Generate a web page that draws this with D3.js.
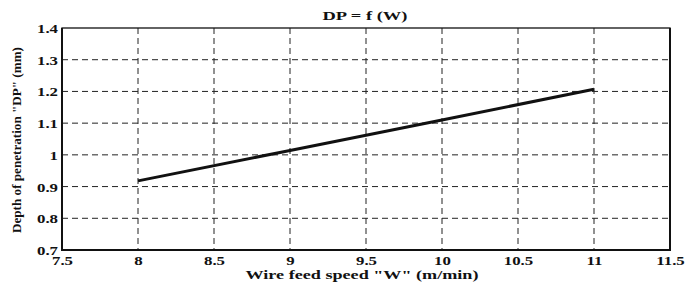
<!DOCTYPE html>
<html><head><meta charset="utf-8">
<script src="https://cdn.jsdelivr.net/npm/d3@7"></script>
<style>body{margin:0;background:#fff;} text{font-family:"Times New Roman","Liberation Serif",Times,serif;font-weight:bold;}</style>
</head><body>
<svg id="c" width="687" height="285"></svg>
<script>
const wData = [8, 9, 10, 11];
const dpData = [0.918, 1.014, 1.11, 1.207];
const xTicks = [7.5, 8, 8.5, 9, 9.5, 10, 10.5, 11, 11.5];
const yTicks = [0.7, 0.8, 0.9, 1, 1.1, 1.2, 1.3, 1.4];

const svg = d3.select("#c");
const m = {l:62, r:670, t:28, b:250};
const x = d3.scaleLinear().domain([7.5, 11.5]).range([m.l, m.r]);
const y = d3.scaleLinear().domain([0.7, 1.4]).range([m.b, m.t]);
const FONT = '"Times New Roman","Liberation Serif",Times,serif';

// grid
svg.append("g").selectAll("line").data(xTicks.slice(1, -1)).enter().append("line")
  .attr("x1", d => x(d)).attr("x2", d => x(d)).attr("y1", m.t).attr("y2", m.b)
  .attr("stroke", "#222").attr("stroke-width", 1).attr("stroke-dasharray", "6,4");
svg.append("g").selectAll("line").data(yTicks.slice(1, -1)).enter().append("line")
  .attr("y1", d => y(d)).attr("y2", d => y(d)).attr("x1", m.l).attr("x2", m.r)
  .attr("stroke", "#222").attr("stroke-width", 1).attr("stroke-dasharray", "6,4");

// axes
const xa = svg.append("g").attr("transform", `translate(0,${m.b})`)
  .call(d3.axisBottom(x).tickValues(xTicks).tickFormat(d3.format("")).tickSize(0).tickPadding(4));
const ya = svg.append("g").attr("transform", `translate(${m.l},0)`)
  .call(d3.axisLeft(y).tickValues(yTicks).tickFormat(d3.format("")).tickSize(0).tickPadding(4));
[xa, ya].forEach(a => {
  a.select(".domain").remove();
  a.selectAll("text").attr("font-size", 12).attr("fill", "#111")
    .style("font-family", FONT).style("font-weight", "bold")
    .each(function () {
      const len = this.getComputedTextLength();
      d3.select(this).attr("textLength", len * 1.4).attr("lengthAdjust", "spacingAndGlyphs");
    });
});
xa.selectAll("text").attr("dy", "0.95em");
ya.selectAll("text").attr("dy", "0.38em");

// frame
svg.append("rect").attr("x", m.l).attr("y", m.t).attr("width", m.r - m.l).attr("height", m.b - m.t)
  .attr("fill", "none").attr("stroke", "#111").attr("stroke-width", 1.3);
svg.append("line").attr("x1", m.l).attr("x2", m.l).attr("y1", m.t).attr("y2", m.b + 1).attr("stroke", "#111").attr("stroke-width", 2);
svg.append("line").attr("x1", m.l).attr("x2", m.r + 1).attr("y1", m.b).attr("y2", m.b).attr("stroke", "#111").attr("stroke-width", 2);
svg.append("line").attr("x1", m.r).attr("x2", m.r).attr("y1", m.t).attr("y2", m.b).attr("stroke", "#111").attr("stroke-width", 2);

// data line
svg.append("path").datum(wData.map((w, i) => [w, dpData[i]]))
  .attr("d", d3.line().x(d => x(d[0])).y(d => y(d[1])))
  .attr("fill", "none").attr("stroke", "#111").attr("stroke-width", 3);

// titles
svg.append("text").attr("x", 365).attr("y", 20).attr("text-anchor", "middle")
  .attr("font-size", 12).attr("fill", "#111").attr("textLength", 85).attr("lengthAdjust", "spacingAndGlyphs")
  .text("DP = f (W)");
svg.append("text").attr("x", 362).attr("y", 279).attr("text-anchor", "middle")
  .attr("font-size", 13).attr("fill", "#111").attr("textLength", 233).attr("lengthAdjust", "spacingAndGlyphs")
  .text('Wire feed speed "W" (m/min)');
svg.append("text").attr("transform", `translate(21,140) rotate(-90)`).attr("text-anchor", "middle")
  .attr("font-size", 11.5).attr("fill", "#111").attr("textLength", 186).attr("lengthAdjust", "spacingAndGlyphs")
  .text('Depth of penetration "DP" (mm)');
</script>
</body></html>
